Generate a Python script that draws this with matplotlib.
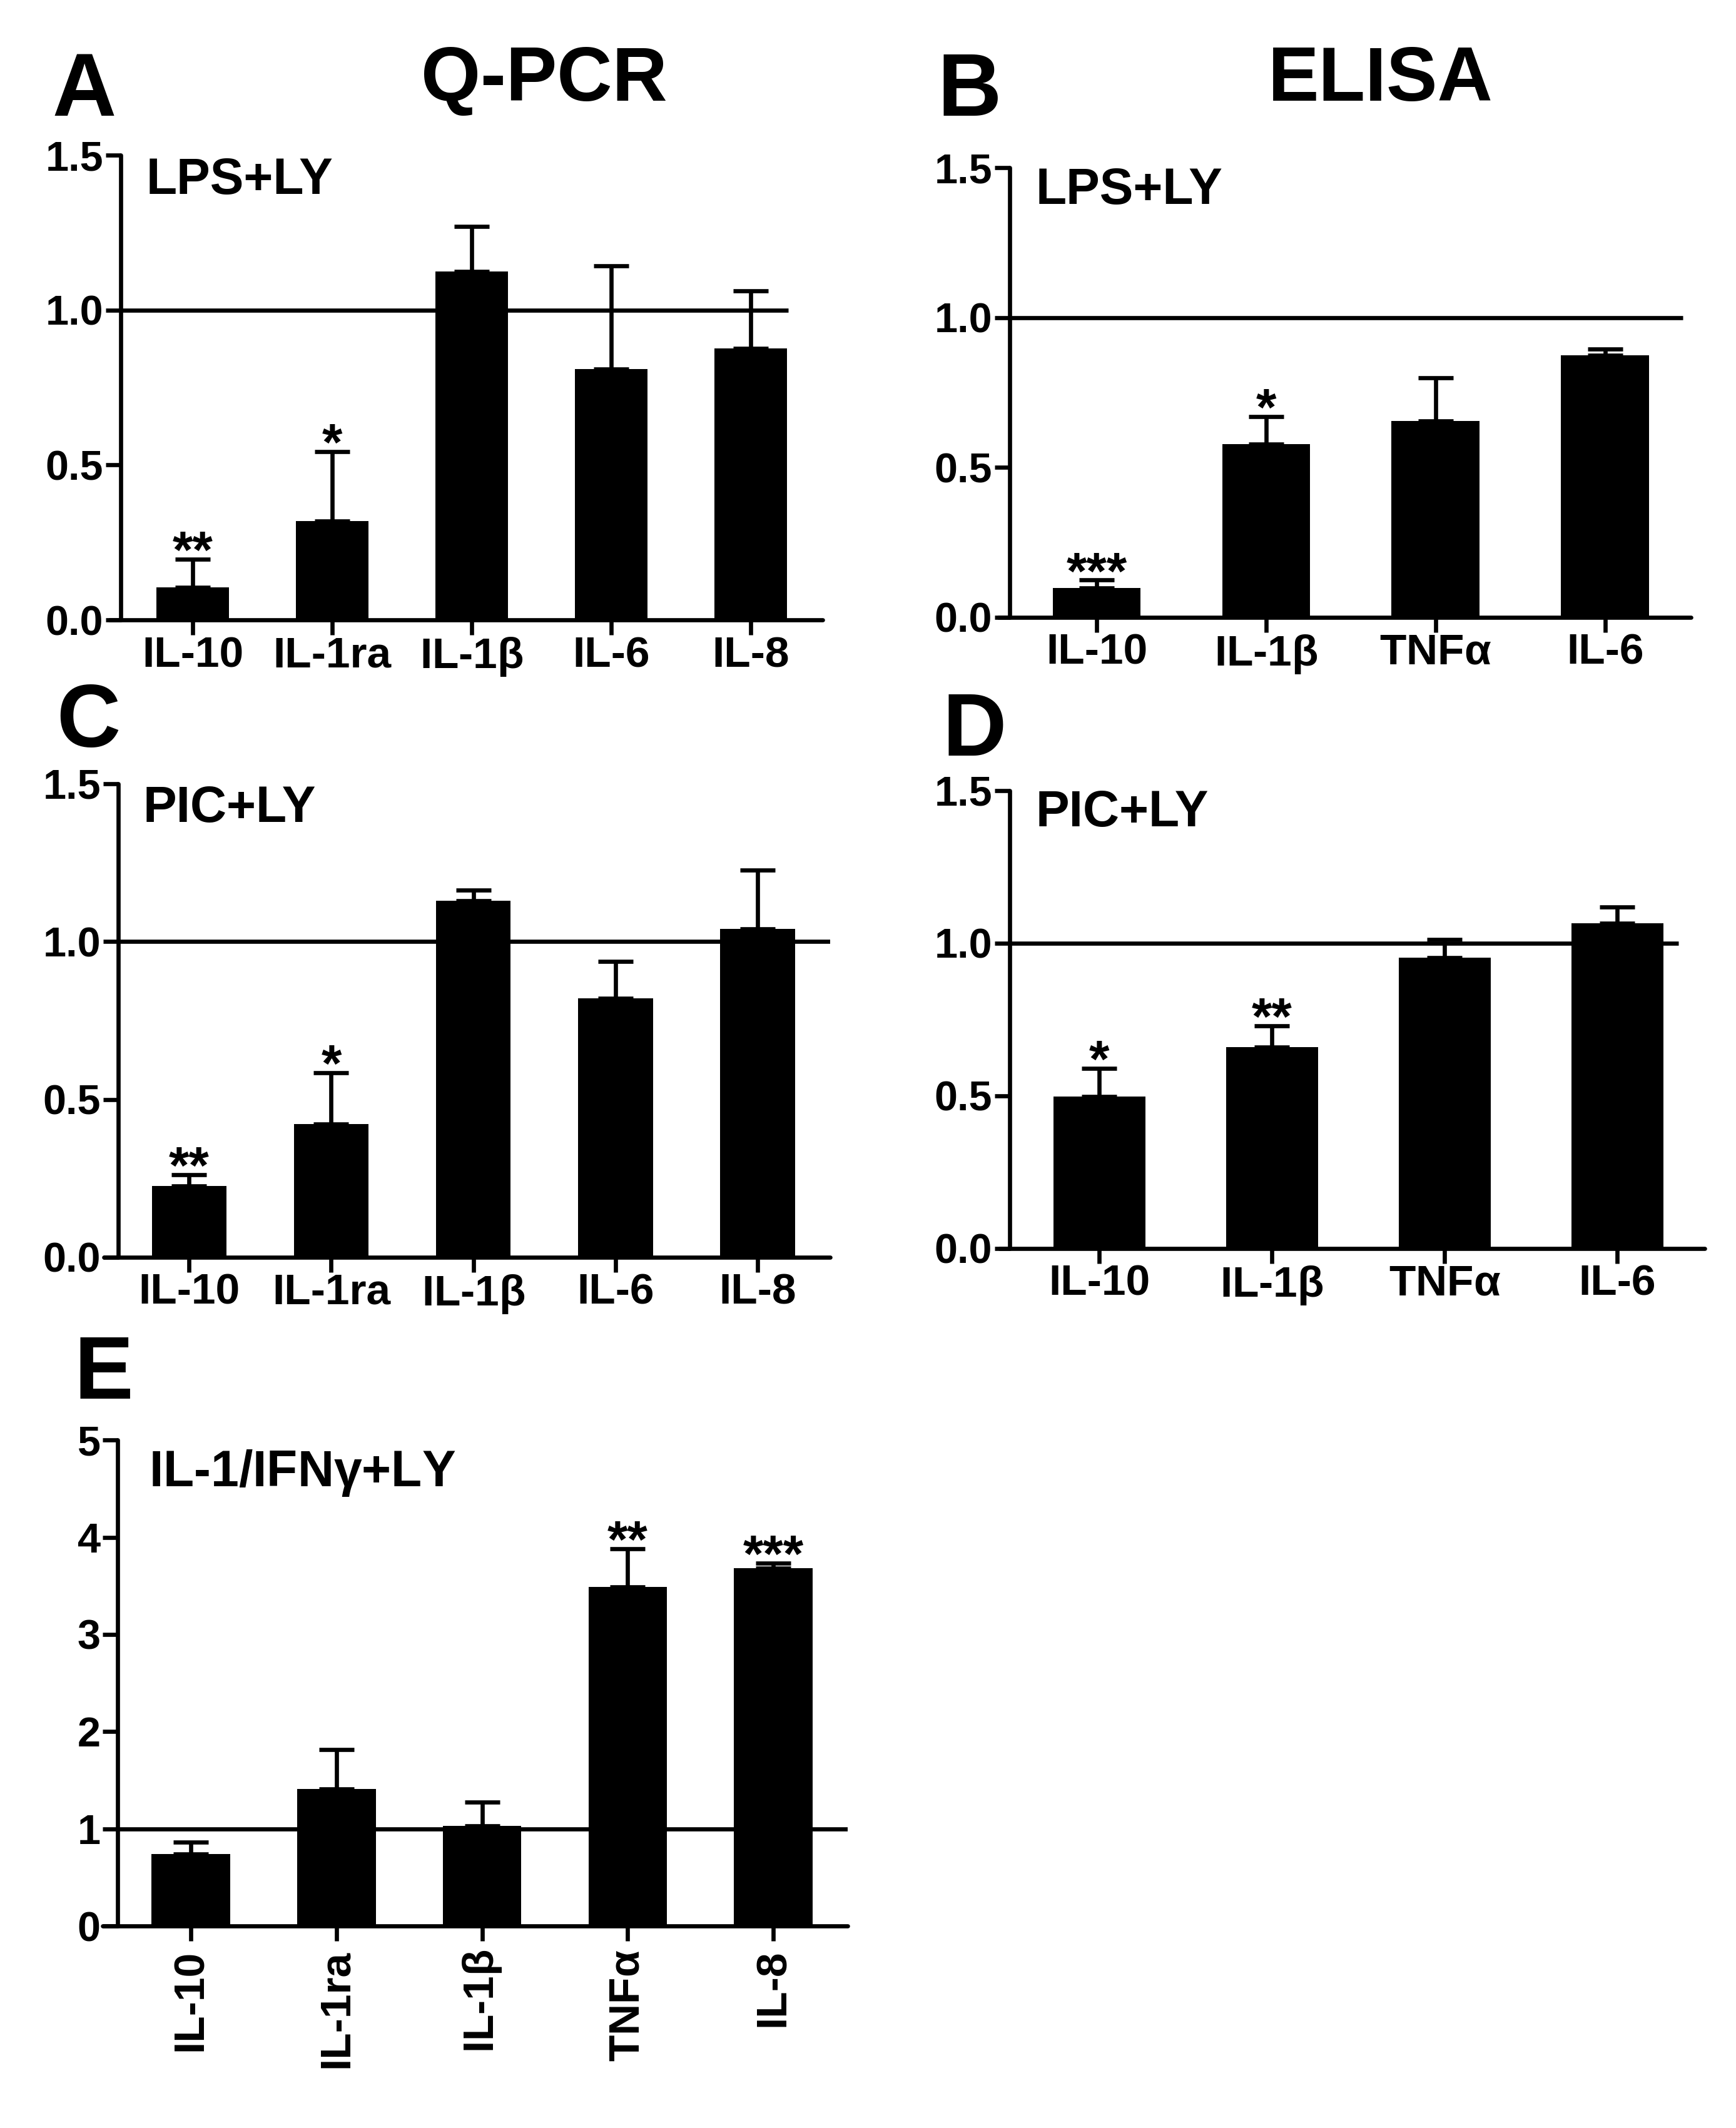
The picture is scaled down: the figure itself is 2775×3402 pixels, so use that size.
import numpy as np
import matplotlib
matplotlib.use('Agg')
from matplotlib import pyplot as plt

plt.rcParams['font.family'] = ['Liberation Sans', 'DejaVu Sans']
plt.rcParams['font.weight'] = 'bold'
# greek letters drawn upright and not bold, as in the figure
plt.rcParams['mathtext.fontset'] = 'custom'
plt.rcParams['mathtext.it'] = 'Liberation Sans'
plt.rcParams['mathtext.rm'] = 'Liberation Sans'

# Q-PCR panels (A, C)
qpcr_cats = ['IL-10', 'IL-1ra', r'IL-1$\beta$', 'IL-6', 'IL-8']
a_vals = [0.104, 0.319, 1.124, 0.81, 0.876]
a_err = [0.092, 0.224, 0.145, 0.333, 0.185]
a_stars = ['**', '*', '', '', '']

c_vals = [0.226, 0.422, 1.129, 0.82, 1.041]
c_err = [0.036, 0.163, 0.034, 0.117, 0.186]
c_stars = ['**', '*', '', '', '']

# ELISA panels (B, D)
elisa_cats = ['IL-10', r'IL-1$\beta$', r'TNF$\alpha$', 'IL-6']
b_vals = [0.098, 0.577, 0.655, 0.874]
b_err = [0.026, 0.093, 0.145, 0.021]
b_stars = ['***', '*', '', '']

d_vals = [0.498, 0.659, 0.952, 1.065]
d_err = [0.092, 0.070, 0.060, 0.054]
d_stars = ['*', '**', '', '']

# panel E
e_cats = ['IL-10', 'IL-1ra', r'IL-1$\beta$', r'TNF$\alpha$', 'IL-8']
e_vals = [0.738, 1.407, 1.031, 3.489, 3.682]
e_err = [0.124, 0.407, 0.243, 0.391, 0.054]
e_stars = ['', '', '', '**', '***']

LW = 4.8


def draw_panel(ax, cats, vals, errs, stars, xlim, yaxis_x, ref_end, ylim, yticks,
               yfmt, note, note_pos, width=0.52, rotate=False):
    x = np.arange(len(cats))
    ax.bar(x, vals, width=width, color='black', zorder=2)
    ax.errorbar(x, vals, yerr=[np.zeros(len(vals)), errs], fmt='none',
                ecolor='black', elinewidth=LW, capsize=20, capthick=LW, zorder=3)
    ax.hlines(1.0, yaxis_x, ref_end, color='black', lw=LW, zorder=1)
    for xi, v, e, s in zip(x, vals, errs, stars):
        if s:
            ax.annotate(s, (xi, v + e), xytext=(0, -10), textcoords='offset points',
                        ha='center', va='baseline', fontsize=60, fontweight='bold')
    ax.set_xlim(*xlim)
    ax.set_ylim(*ylim)
    ax.spines['top'].set_visible(False)
    ax.spines['right'].set_visible(False)
    ax.spines['left'].set_position(('data', yaxis_x))
    for sp in ('left', 'bottom'):
        ax.spines[sp].set_linewidth(LW)
        ax.spines[sp].set_capstyle('round')
    ax.set_yticks(yticks)
    ax.set_yticklabels([yfmt.format(t) for t in yticks])
    ax.set_xticks(x)
    if rotate:
        ax.set_xticklabels(cats, rotation=90)
        ax.tick_params(axis='x', pad=10)
    else:
        ax.set_xticklabels(cats)
        ax.tick_params(axis='x', pad=1)
    ax.tick_params(axis='x', length=17, width=LW, labelsize=50)
    ax.tick_params(axis='y', length=17, width=LW, labelsize=48, pad=3)
    for lab in ax.get_xticklabels() + ax.get_yticklabels():
        lab.set_fontweight('bold')
    ax.text(note_pos[0], note_pos[1], note, transform=ax.transAxes, ha='left',
            va='baseline', fontsize=58, fontweight='bold')


fig = plt.figure(figsize=(27.75, 34.02), dpi=100)
W, H = 2775.0, 3402.0

ax_a = fig.add_axes([0.0631, 0.7087, 0.4108, 0.2184])
ax_b = fig.add_axes([0.5751, 0.7099, 0.3989, 0.2113])
ax_c = fig.add_axes([0.0598, 0.4092, 0.4184, 0.2225])
ax_d = fig.add_axes([0.5759, 0.4133, 0.4061, 0.2152])
ax_e = fig.add_axes([0.0591, 0.0949, 0.4292, 0.2284])

yt15 = [0.0, 0.5, 1.0, 1.5]
draw_panel(ax_a, qpcr_cats, a_vals, a_err, a_stars, (-0.596, 4.516), -0.516, 4.27,
           (0, 1.5), yt15, '{:.1f}', 'LPS+LY', (0.051, 0.917))
draw_panel(ax_b, elisa_cats, b_vals, b_err, b_stars, (-0.58, 3.506), -0.513, 3.46,
           (0, 1.5), yt15, '{:.1f}', 'LPS+LY', (0.054, 0.919))
draw_panel(ax_c, qpcr_cats, c_vals, c_err, c_stars, (-0.60, 4.51), -0.50, 4.51,
           (0, 1.5), yt15, '{:.1f}', 'PIC+LY', (0.054, 0.919), width=0.525)
draw_panel(ax_d, elisa_cats, d_vals, d_err, d_stars, (-0.576, 3.507), -0.518, 3.355,
           (0, 1.5), yt15, '{:.1f}', 'PIC+LY', (0.051, 0.922), width=0.533)
draw_panel(ax_e, e_cats, e_vals, e_err, e_stars, (-0.605, 4.51), -0.50, 4.54,
           (0, 5), [0, 1, 2, 3, 4, 5], '{:.0f}', r'IL-1/IFN$\gamma$+LY', (0.062, 0.905),
           width=0.54, rotate=True)

# titles and panel letters (pixel positions from the reference)
fig.text(870 / W, 1 - 161 / H, 'Q-PCR', ha='center', va='baseline', fontsize=88, fontweight='bold')
fig.text(2207 / W, 1 - 161 / H, 'ELISA', ha='center', va='baseline', fontsize=88, fontweight='bold')
for letter, px, py in [('A', 83, 185), ('B', 1499, 185), ('C', 90, 1194),
                       ('D', 1506, 1208), ('E', 119, 2236)]:
    fig.text(px / W, 1 - py / H, letter, ha='left', va='baseline', fontsize=102, fontweight='bold')

fig.savefig('out.png', dpi=100)
